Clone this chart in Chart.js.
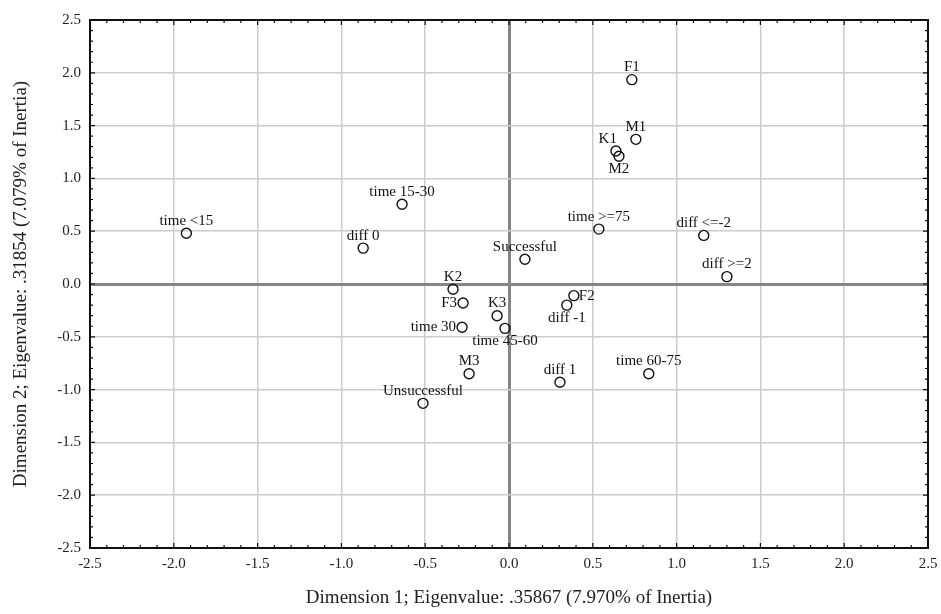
<!DOCTYPE html>
<html>
<head>
<meta charset="utf-8">
<script src="https://cdn.jsdelivr.net/npm/chart.js@4"></script>
<style>
  html, body { margin: 0; padding: 0; background: #fff; }
  #wrap { width: 941px; height: 614px; }
</style>
</head>
<body>
<div id="wrap"><canvas id="chart"></canvas></div>
<script>
// categories and coordinates
const names = ['time <15','time 15-30','diff 0','F1','M1','K1','M2','time >=75','diff <=-2','diff >=2',
  'Successful','K2','F3','K3','time 30','time 45-60','F2','diff -1','M3','diff 1','time 60-75','Unsuccessful'];
const dim1 = [-1.925,-0.638,-0.870,0.733,0.757,0.638,0.656,0.536,1.162,1.300,
  0.095,-0.334,-0.274,-0.071,-0.280,-0.024,0.387,0.345,-0.238,0.304,0.834,-0.513];
const dim2 = [0.480,0.755,0.340,1.935,1.370,1.260,1.210,0.520,0.460,0.070,
  0.235,-0.050,-0.180,-0.300,-0.410,-0.420,-0.110,-0.200,-0.850,-0.930,-0.850,-1.130];
// where each label sits relative to its point
const labelPos = ['above','above','above','above','above','aboveLeft','below','above','above','above',
  'above','above','left','above','left','below','right','below','above','above','above','above'];

const ticksVals = [-2.5,-2.0,-1.5,-1.0,-0.5,0.0,0.5,1.0,1.5,2.0,2.5];
const xTitle = 'Dimension 1; Eigenvalue: .35867 (7.970% of Inertia)';
const yTitle = 'Dimension 2; Eigenvalue: .31854 (7.079% of Inertia)';

const FONT = '"Liberation Serif", "DejaVu Serif", serif';

const points = names.map((n, i) => ({ x: dim1[i], y: dim2[i] }));

// labels next to each circle
const pointLabels = {
  id: 'pointLabels',
  afterDatasetsDraw(chart) {
    const ctx = chart.ctx;
    const meta = chart.getDatasetMeta(0);
    ctx.save();
    ctx.font = '15px ' + FONT;
    ctx.fillStyle = '#111';
    meta.data.forEach((el, i) => {
      const p = labelPos[i];
      let x = el.x, y = el.y;
      if (p === 'above') { ctx.textAlign = 'center'; ctx.textBaseline = 'bottom'; y -= 5; }
      else if (p === 'below') { ctx.textAlign = 'center'; ctx.textBaseline = 'top'; y += 5; }
      else if (p === 'left') { ctx.textAlign = 'right'; ctx.textBaseline = 'middle'; x -= 6; }
      else if (p === 'right') { ctx.textAlign = 'left'; ctx.textBaseline = 'middle'; x += 5; }
      else if (p === 'aboveLeft') { ctx.textAlign = 'right'; ctx.textBaseline = 'bottom'; x += 1; y -= 4; }
      ctx.fillText(names[i], x, y);
    });
    ctx.restore();
  }
};

// black frame with inward minor ticks
const frame = {
  id: 'frame',
  afterDraw(chart) {
    const { ctx, chartArea: a, scales: { x, y } } = chart;
    ctx.save();
    ctx.strokeStyle = '#111';
    ctx.lineWidth = 1.2;
    ctx.beginPath();
    for (let k = -25; k <= 25; k++) {
      const v = k / 10;
      const len = (k % 5 === 0) ? 5 : 3;
      const px = x.getPixelForValue(v), py = y.getPixelForValue(v);
      ctx.moveTo(px, a.bottom); ctx.lineTo(px, a.bottom - len);
      ctx.moveTo(px, a.top); ctx.lineTo(px, a.top + len);
      ctx.moveTo(a.left, py); ctx.lineTo(a.left + len, py);
      ctx.moveTo(a.right, py); ctx.lineTo(a.right - len, py);
    }
    ctx.stroke();
    ctx.lineWidth = 2;
    ctx.strokeRect(a.left, a.top, a.right - a.left, a.bottom - a.top);
    ctx.restore();
  }
};

const gridColor = c => c.tick && c.tick.value === 0 ? '#858585' : '#cccccc';
const gridWidth = c => c.tick && c.tick.value === 0 ? 3 : 1.5;

new Chart(document.getElementById('chart'), {
  type: 'scatter',
  data: {
    datasets: [{
      data: points,
      pointRadius: 5, pointHoverRadius: 5,
      pointBorderWidth: 1.4,
      pointBorderColor: '#111',
      pointBackgroundColor: 'rgba(255,255,255,0)',
    }],
  },
  options: {
    responsive: true, maintainAspectRatio: false, animation: false,
    layout: { padding: { top: 20, right: 13, left: 0, bottom: 0 } },
    plugins: { legend: { display: false }, tooltip: { enabled: false } },
    scales: {
      x: {
        type: 'linear', min: -2.5, max: 2.5,
        afterBuildTicks: s => { s.ticks = ticksVals.map(v => ({ value: v })); },
        afterFit: s => { s.height = 66; s.paddingLeft = 0; s.paddingRight = 0; },
        grid: { color: gridColor, lineWidth: gridWidth, drawTicks: false },
        border: { display: false },
        ticks: { color: '#222', font: { family: FONT, size: 15 }, padding: 7,
          callback: v => v.toFixed(1), maxRotation: 0 },
        title: { display: true, text: xTitle, color: '#222',
          font: { family: FONT, size: 19 }, padding: { top: 4, bottom: 5 } },
      },
      y: {
        type: 'linear', min: -2.5, max: 2.5,
        afterBuildTicks: s => { s.ticks = ticksVals.map(v => ({ value: v })); },
        afterFit: s => { s.width = 90; s.paddingTop = 0; s.paddingBottom = 0; },
        grid: { color: gridColor, lineWidth: gridWidth, drawTicks: false },
        border: { display: false },
        ticks: { color: '#222', font: { family: FONT, size: 15 }, padding: 9,
          callback: v => v.toFixed(1) },
        title: { display: true, text: yTitle, color: '#222',
          font: { family: FONT, size: 19 }, padding: { top: 10, bottom: 0 } },
      },
    },
  },
  plugins: [pointLabels, frame],
});
</script>
</body>
</html>
